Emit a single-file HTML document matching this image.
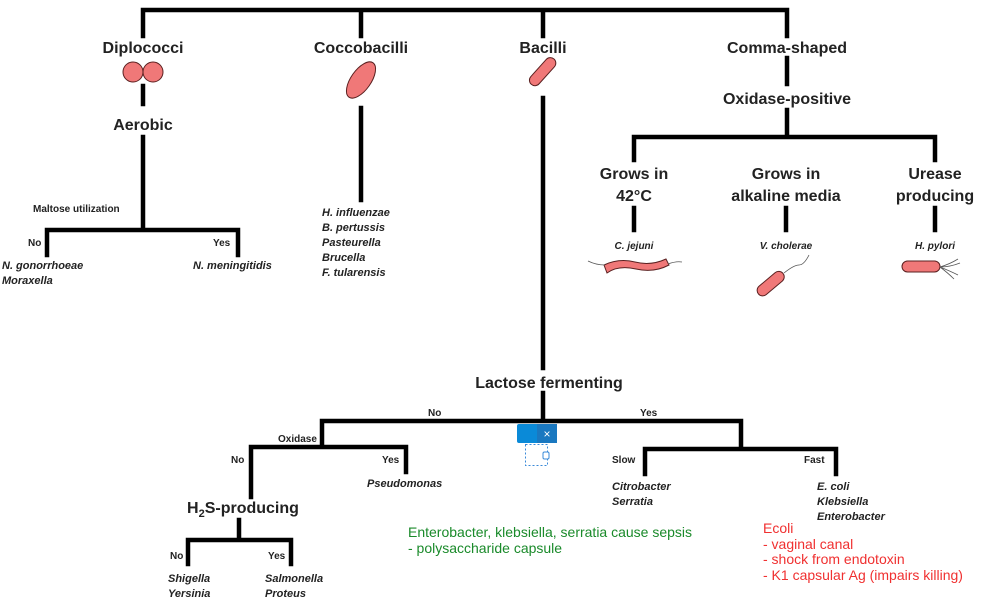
<!DOCTYPE html>
<html><head><meta charset="utf-8"><style>
html,body{margin:0;padding:0;background:#fff;width:989px;height:608px;overflow:hidden}
svg{display:block}
text{font-family:"Liberation Sans",Arial,sans-serif;fill:#222}
.h{font-size:16px;font-weight:bold}
.s{font-size:10px;font-weight:bold}
.i{font-size:11px;font-weight:bold;font-style:italic}
</style></head><body>
<svg width="989" height="608" viewBox="0 0 989 608">
<g stroke="#000" stroke-width="4.5" fill="none" stroke-linecap="square">
<path d="M143 36V10H787V36M361 10V36M543 10V36"/>
<path d="M143 86V104M143 137V230M47 255V230H238V255"/>
<path d="M361 108V200"/>
<path d="M543 98V368M543 393V421M322 447V421H741V447M251 497V447H406V472M239 520V540M188 564V540H291V564M645 474V449H836V474"/>
<path d="M787 58V84M787 110V137M634 160V137H935V160M634 208V230M786 208V230M935 208V230"/>
</g>
<text class="h" x="143" y="53" text-anchor="middle">Diplococci</text>
<text class="h" x="361" y="53" text-anchor="middle">Coccobacilli</text>
<text class="h" x="543" y="53" text-anchor="middle">Bacilli</text>
<text class="h" x="787" y="53" text-anchor="middle">Comma-shaped</text>
<text class="h" x="787" y="104" text-anchor="middle">Oxidase-positive</text>
<text class="h" x="143" y="130" text-anchor="middle">Aerobic</text>
<g fill="#f07878" stroke="#5a2020" stroke-width="1">
<circle cx="133" cy="72" r="10"/><circle cx="153" cy="72" r="10"/>
<ellipse cx="361" cy="80" rx="10" ry="21" transform="rotate(35 361 80)"/>
<rect x="526" y="66" width="34" height="11" rx="5.5" transform="rotate(-48 543 72)"/>
<path d="M604 265q15-7 31-3t31-3l3 6q-15 8-33 4t-29 4z"/>
<rect x="755" y="278" width="32" height="11" rx="5.5" transform="rotate(-40 771 284)"/>
<rect x="902" y="261" width="38" height="11" rx="5.5"/>
</g>
<g stroke="#555" stroke-width="0.8" fill="none">
<path d="M588 261q8 4 17 4M668 264q8-3 14-2M784 273q10-8 15-8t10-10M940 267q10-3 18-8M940 267q10 0 20-4M940 267q10 4 18 8M940 267q8 6 14 12"/>
</g>
<text class="s" x="33" y="212">Maltose utilization</text>
<text class="s" x="28" y="246">No</text><text class="s" x="213" y="246">Yes</text>
<text class="i" x="2" y="269">N. gonorrhoeae</text><text class="i" x="2" y="284">Moraxella</text>
<text class="i" x="193" y="269">N. meningitidis</text>
<text class="i" x="322" y="216">H. influenzae</text>
<text class="i" x="322" y="231">B. pertussis</text>
<text class="i" x="322" y="246">Pasteurella</text>
<text class="i" x="322" y="261">Brucella</text>
<text class="i" x="322" y="276">F. tularensis</text>
<text class="h" x="634" y="179" text-anchor="middle">Grows in</text>
<text class="h" x="634" y="201" text-anchor="middle">42°C</text>
<text class="h" x="786" y="179" text-anchor="middle">Grows in</text>
<text class="h" x="786" y="201" text-anchor="middle">alkaline media</text>
<text class="h" x="935" y="179" text-anchor="middle">Urease</text>
<text class="h" x="935" y="201" text-anchor="middle">producing</text>
<text class="i" x="634" y="249" text-anchor="middle" style="font-size:10px">C. jejuni</text>
<text class="i" x="786" y="249" text-anchor="middle" style="font-size:10px">V. cholerae</text>
<text class="i" x="935" y="249" text-anchor="middle" style="font-size:10px">H. pylori</text>
<text class="h" x="549" y="388" text-anchor="middle">Lactose fermenting</text>
<text class="s" x="428" y="416">No</text><text class="s" x="640" y="416">Yes</text>
<text class="s" x="278" y="442">Oxidase</text>
<text class="s" x="231" y="463">No</text><text class="s" x="382" y="463">Yes</text>
<text class="i" x="367" y="487">Pseudomonas</text>
<text class="h" x="187" y="513">H<tspan font-size="11" dy="4">2</tspan><tspan dy="-4">S-producing</tspan></text>
<text class="s" x="170" y="559">No</text><text class="s" x="268" y="559">Yes</text>
<text class="i" x="168" y="582">Shigella</text><text class="i" x="168" y="597">Yersinia</text>
<text class="i" x="265" y="582">Salmonella</text><text class="i" x="265" y="597">Proteus</text>
<text class="s" x="612" y="463">Slow</text><text class="s" x="804" y="463">Fast</text>
<text class="i" x="612" y="490">Citrobacter</text><text class="i" x="612" y="505">Serratia</text>
<text class="i" x="817" y="490">E. coli</text><text class="i" x="817" y="505">Klebsiella</text><text class="i" x="817" y="520">Enterobacter</text>
<g style="font-size:14px">
<text x="408" y="537" style="fill:#1a8a2a">Enterobacter, klebsiella, serratia cause sepsis</text>
<text x="408" y="553" style="fill:#1a8a2a">- polysaccharide capsule</text>
<text x="763" y="533" style="fill:#f03030">Ecoli</text>
<text x="763" y="549" style="fill:#f03030">- vaginal canal</text>
<text x="763" y="564" style="fill:#f03030">- shock from endotoxin</text>
<text x="763" y="580" style="fill:#f03030">- K1 capsular Ag (impairs killing)</text>
</g>
<rect x="517" y="424" width="40" height="19" rx="2" fill="#0a8ad8"/>
<rect x="537" y="424" width="20" height="19" fill="#1a78c0"/>
<text x="547" y="438" text-anchor="middle" style="fill:#fff;font-size:12px">×</text>
<rect x="525.5" y="444.5" width="22" height="21" fill="none" stroke="#3a8ad8" stroke-dasharray="2,2"/>
<rect x="543" y="452" width="6" height="7" rx="1.5" fill="#fff" stroke="#3a8ad8"/>
</svg>
</body></html>
